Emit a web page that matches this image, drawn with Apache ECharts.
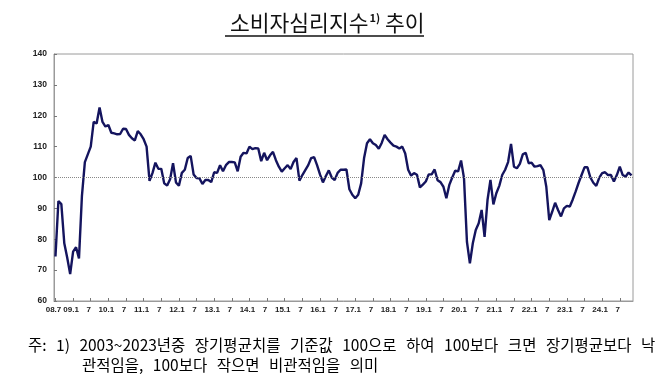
<!DOCTYPE html>
<html><head><meta charset="utf-8">
<script src="https://cdn.jsdelivr.net/npm/echarts@6/dist/echarts.min.js"></script>
<style>html,body{margin:0;padding:0;background:#fff}#c{width:670px;height:384px}</style>
</head><body><div id="c"></div>
<script>
// Monthly consumer sentiment index, 2008.7 - 2024.11
const startYear = 2008, startMonth = 7;
const values = [
74.4,92.4,91.4,78.7,74.0,68.7,76.0,77.4,73.8,94.0,105.0,107.5,
110.0,118.0,117.5,122.7,118.0,116.5,117.0,114.5,114.3,114.0,114.1,115.8,
115.7,113.8,112.7,112.0,115.0,114.0,112.4,110.0,98.9,101.4,104.8,102.8,
102.8,98.1,97.4,99.4,104.6,98.4,97.3,101.5,102.5,106.3,107.0,101.0,
99.8,99.7,97.9,99.2,99.2,98.5,101.7,101.5,104.0,102.0,104.0,105.0,
105.0,104.9,102.0,106.7,108.0,107.8,110.0,109.2,109.5,109.4,105.3,108.0,
105.6,107.2,108.3,105.6,103.5,101.9,103.0,104.0,102.7,105.0,106.3,99.0,
100.8,102.4,104.0,106.3,106.6,104.0,101.0,98.4,100.5,102.3,100.0,99.2,
101.5,102.5,102.5,102.6,96.2,94.4,93.3,94.4,98.1,106.3,111.1,112.4,
111.1,110.5,109.3,111.2,113.8,112.4,111.3,110.3,110.0,109.4,110.0,107.8,
102.5,100.6,101.4,100.9,96.8,97.7,98.7,101.0,101.0,102.6,99.1,98.5,
97.0,93.3,97.6,100.0,102.2,102.0,105.5,99.8,79.2,72.2,78.7,83.0,
85.2,89.5,80.8,92.7,99.2,91.3,94.9,97.3,100.8,102.5,105.0,110.9,
103.5,103.0,104.4,107.5,108.0,104.6,104.8,103.5,103.7,104.0,102.4,97.0,
86.2,88.9,91.8,89.5,87.4,90.0,90.8,90.6,92.9,95.5,98.3,100.8,
103.3,103.3,100.0,98.3,97.3,99.9,101.4,101.7,100.8,100.8,98.7,100.8,
103.5,100.8,100.3,101.6,100.7
];
const yTicks = [60,70,80,90,100,110,120,130,140];
const baseline = 100;
const titleMain = '소비자심리지수', titleSup = '1)', titleTail = ' 추이';
const note1 = '주: 1) 2003~2023년중 장기평균치를 기준값 100으로 하여 100보다 크면 장기평균보다 낙';
const note2 = '관적임을, 100보다 작으면 비관적임을 의미';

const categories = [];
for (let i = 0; i < values.length; i++) {
  const t = (startMonth - 1) + i;
  const y = startYear + Math.floor(t / 12), m = t % 12 + 1;
  categories.push(String(y % 100).padStart(2, '0') + '.' + m);
}
const labelFor = (v, i) => {
  if (i === 0) return v;
  const m = v.split('.')[1];
  return m === '1' ? v : m;
};
// footnote: words joined by wider spacers (the original is justified)
const spaced = s => s.split(' ').map(w => '{n|' + w + '}').join('{sp| }');
const noteRich = {
  n: {fontFamily: 'Noto Sans CJK KR', fontSize: 15.5, color: '#222'},
  sp: {fontFamily: 'Noto Sans CJK KR', fontSize: 15.5, width: 9.5}
};

const chart = echarts.init(document.getElementById('c'), null, {renderer: 'canvas'});
chart.setOption({
  animation: false,
  backgroundColor: '#fff',
  title: {
    text: '{t|' + titleMain + '}{s|' + titleSup + '}{t|' + titleTail + '}',
    left: 225, top: 7,
    textStyle: {
      rich: {
        t: {fontFamily: 'Noto Sans CJK KR', fontSize: 21.5, color: '#111', fontWeight: 'normal'},
        s: {fontFamily: 'Noto Sans CJK KR', fontSize: 11, color: '#111', verticalAlign: 'top', padding: [0, 0, 10, 1]}
      }
    }
  },
  grid: {left: 54, right: 37, top: 54, bottom: 83, show: true, borderColor: '#9a9a9a', borderWidth: 1},
  xAxis: {
    type: 'category', data: categories, boundaryGap: true,
    axisLine: {lineStyle: {color: '#9a9a9a'}},
    axisTick: {show: true, inside: true, length: 3, interval: 5, alignWithLabel: true, lineStyle: {color: '#777'}},
    axisLabel: {interval: 5, formatter: labelFor, hideOverlap: false, padding: [0, 4, 0, 0],
      color: '#222', fontSize: 8, fontWeight: 'bold', fontFamily: 'Liberation Sans', margin: 5}
  },
  yAxis: {
    type: 'value', min: yTicks[0], max: yTicks[yTicks.length - 1], interval: 10,
    axisLine: {show: true, lineStyle: {color: '#9a9a9a'}},
    axisTick: {show: true, inside: true, length: 3, lineStyle: {color: '#777'}},
    splitLine: {show: false},
    axisLabel: {color: '#222', fontSize: 8.5, fontWeight: 'bold', fontFamily: 'Liberation Sans', margin: 7}
  },
  series: [{
    type: 'line', data: values, showSymbol: false, symbol: 'none',
    lineStyle: {color: '#14145e', width: 2.4},
    markLine: {
      silent: true, symbol: 'none', label: {show: false},
      lineStyle: {color: '#888', type: 'dotted', width: 1},
      data: [{yAxis: baseline}]
    },
    z: 3
  }],
  graphic: [
    {type: 'line', shape: {x1: 225, y1: 36, x2: 424, y2: 36}, style: {stroke: '#111', lineWidth: 1.3}},
    {type: 'text', left: 28, top: 337, style: {text: spaced(note1), rich: noteRich}},
    {type: 'text', left: 82, top: 357, style: {text: spaced(note2), rich: noteRich}}
  ]
});
</script></body></html>
